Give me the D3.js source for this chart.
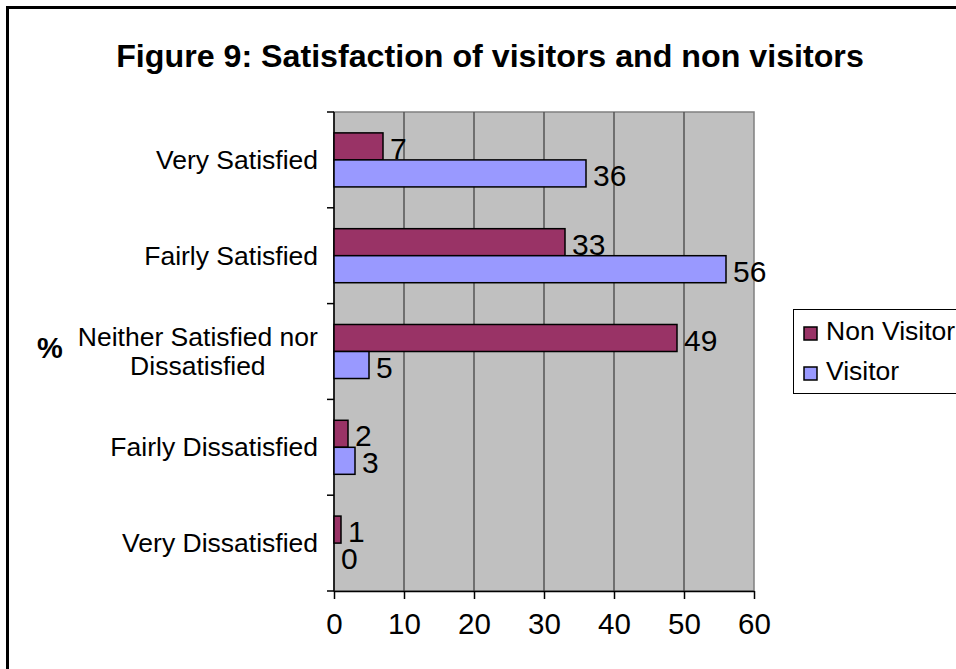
<!DOCTYPE html>
<html><head><meta charset="utf-8">
<script src="https://cdn.jsdelivr.net/npm/d3@7"></script>
<style>html,body{margin:0;padding:0;background:#fff;overflow:hidden}</style>
</head><body>
<svg id="c" width="956" height="669"></svg>
<script>
const categories = ["Very Satisfied","Fairly Satisfied","Neither Satisfied nor\nDissatisfied","Fairly Dissatisfied","Very Dissatisfied"];
const seriesNames = ["Non Visitor","Visitor"];
const nonVisitor = [7,33,49,2,1];
const visitor = [36,56,5,3,0];
const xTicks = [0,10,20,30,40,50,60];
const colors = ["#993366","#9999FF"];
const titleText = "Figure 9: Satisfaction of visitors and non visitors";
const yTitle = "%";

const svg = d3.select("#c");
const font = "Liberation Sans, Arial, Helvetica, sans-serif";
// outer border
svg.append("rect").attr("x",7.5).attr("y",7.5).attr("width",1000).attr("height",1000)
  .attr("fill","none").attr("stroke","#000").attr("stroke-width",3);

const L=334,R=754,T=112,B=591;
const x = d3.scaleLinear().domain([0,60]).range([L,R]);
const y = d3.scaleBand().domain(categories).range([T,B]).paddingInner(0.436).paddingOuter(0.218);
const ys = d3.scaleBand().domain(seriesNames).range([0,y.bandwidth()]);

svg.append("rect").attr("x",L).attr("y",T).attr("width",R-L).attr("height",B-T).attr("fill","#C0C0C0")
  .attr("stroke","#808080").attr("stroke-width",1.5);

// gridlines
svg.append("g").selectAll("line").data(xTicks.filter(d=>d>0&&d<60)).join("line")
  .attr("x1",d=>x(d)).attr("x2",d=>x(d)).attr("y1",T).attr("y2",B)
  .attr("stroke","#555").attr("stroke-width",1.5);

// x axis
const xa = svg.append("g").attr("transform",`translate(0,${B})`)
  .call(d3.axisBottom(x).tickValues(xTicks).tickSize(8).tickPadding(14).tickSizeOuter(0));
xa.select(".domain").attr("stroke","#000").attr("stroke-width",1.5);
xa.selectAll(".tick line").attr("stroke","#000").attr("stroke-width",1.5);
xa.selectAll("text").attr("font-family",font).attr("font-size",29.5).attr("fill","#000").attr("dy","0.71em");

// y axis line and ticks at boundaries
svg.append("line").attr("x1",L).attr("x2",L).attr("y1",T).attr("y2",B).attr("stroke","#000").attr("stroke-width",1.5);
const step = y.step();
svg.append("g").selectAll("line").data(d3.range(categories.length+1)).join("line")
  .attr("x1",L-7).attr("x2",L).attr("y1",i=>T+i*step).attr("y2",i=>T+i*step)
  .attr("stroke","#000").attr("stroke-width",1.5);

// category labels
categories.forEach(c=>{
  const lines=c.split("\n");
  const g=svg.append("g");
  const t=g.append("text").attr("font-family",font).attr("font-size",26.5).attr("text-anchor","middle").attr("fill","#000");
  const lh=28.5;
  const cy=y(c)+y.bandwidth()/2;
  lines.forEach((ln,i)=>{
    t.append("tspan").attr("x",0).attr("y",cy+9+(i-(lines.length-1)/2)*lh).text(ln);
  });
  const w=t.node().getBBox().width;
  g.attr("transform",`translate(${318-w/2},0)`);
});

// bars
const data = categories.map((c,i)=>({c, vals:[nonVisitor[i],visitor[i]]}));
const gg = svg.append("g").selectAll("g").data(data).join("g").attr("transform",d=>`translate(0,${y(d.c)})`);
gg.selectAll("rect").data(d=>d.vals.map((v,j)=>({v,s:seriesNames[j],j}))).join("rect")
  .attr("x",x(0)).attr("y",d=>ys(d.s)).attr("width",d=>x(d.v)-x(0)).attr("height",ys.bandwidth())
  .attr("fill",d=>colors[d.j]).attr("stroke","#000").attr("stroke-width",d=>d.v>0?1.5:0);
gg.selectAll("text").data(d=>d.vals.map((v,j)=>({v,s:seriesNames[j],j}))).join("text")
  .attr("x",d=>x(d.v)+7).attr("y",d=>ys(d.s)+ys.bandwidth()-1)
  .attr("font-family",font).attr("font-size",30).attr("fill","#000").text(d=>d.v);

// title
svg.append("text").attr("x",490).attr("y",67).attr("text-anchor","middle").attr("font-family",font)
  .attr("font-weight","bold").attr("font-size",32.2).attr("fill","#000").text(titleText);
svg.append("text").attr("x",50).attr("y",358).attr("text-anchor","middle").attr("font-family",font)
  .attr("font-weight","bold").attr("font-size",29).attr("fill","#000").text(yTitle);

// legend
const lg = svg.append("g");
lg.append("rect").attr("x",793.5).attr("y",309.5).attr("width",200).attr("height",84).attr("fill","#fff").attr("stroke","#000").attr("stroke-width",1);
seriesNames.forEach((s,i)=>{
  const yy = 327 + i*40;
  lg.append("rect").attr("x",804).attr("y",yy).attr("width",13).attr("height",13).attr("fill",colors[i]).attr("stroke","#000").attr("stroke-width",1.5);
  lg.append("text").attr("x",826).attr("y",yy+13).attr("font-family",font).attr("font-size",26.5).attr("fill","#000").text(s);
});
</script>
</body></html>
